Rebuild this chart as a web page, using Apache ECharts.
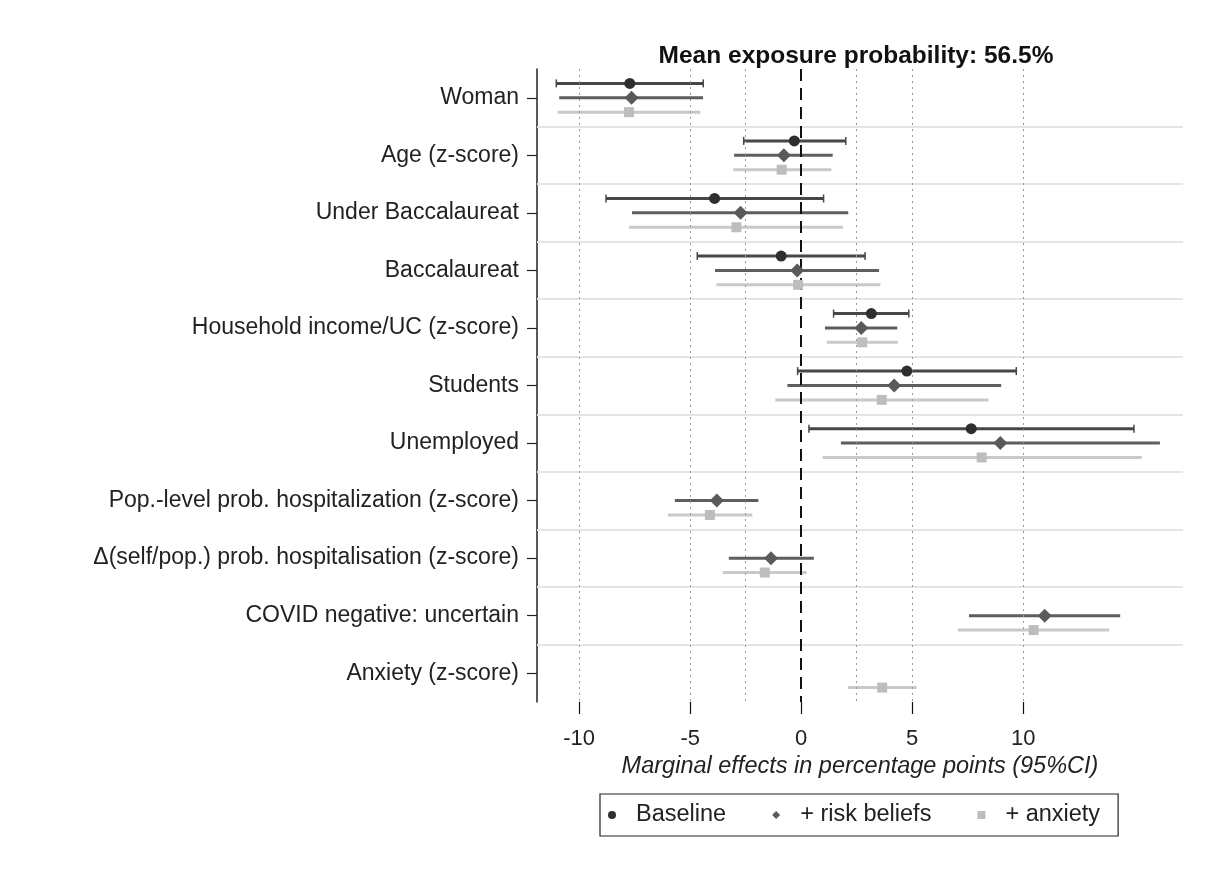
<!DOCTYPE html>
<html>
<head>
<meta charset="utf-8">
<script src="https://cdn.jsdelivr.net/npm/echarts@6/dist/echarts.min.js"></script>
<style>
html,body{margin:0;padding:0;background:#fff;}
#chart{width:1210px;height:882px;}
</style>
</head>
<body>
<div id="chart"></div>
<script>
var categories = [
  'Woman',
  'Age (z-score)',
  'Under Baccalaureat',
  'Baccalaureat',
  'Household income/UC (z-score)',
  'Students',
  'Unemployed',
  'Pop.-level prob. hospitalization (z-score)',
  '\u0394(self/pop.) prob. hospitalisation (z-score)',
  'COVID negative: uncertain',
  'Anxiety (z-score)'
];

var baselinePt = [-7.72, -0.31, -3.90, -0.90, 3.16, 4.76, 7.66, null, null, null, null];
var baselineLo = [-11.03, -2.59, -8.79, -4.68, 1.46, -0.16, 0.35, null, null, null, null];
var baselineHi = [-4.41, 2.01, 1.01, 2.88, 4.85, 9.69, 14.99, null, null, null, null];

var riskPt = [-7.64, -0.78, -2.73, -0.18, 2.71, 4.19, 8.97, -3.80, -1.36, 10.97, null];
var riskLo = [-10.90, -3.02, -7.62, -3.88, 1.07, -0.62, 1.79, -5.69, -3.26, 7.56, null];
var riskHi = [-4.42, 1.42, 2.12, 3.51, 4.33, 9.01, 16.16, -1.93, 0.57, 14.37, null];

var anxPt = [-7.76, -0.88, -2.92, -0.14, 2.75, 3.63, 8.13, -4.11, -1.64, 10.47, 3.65];
var anxLo = [-10.97, -3.06, -7.76, -3.82, 1.15, -1.17, 0.97, -6.00, -3.53, 7.06, 2.11];
var anxHi = [-4.54, 1.36, 1.89, 3.57, 4.35, 8.44, 15.34, -2.20, 0.25, 13.88, 5.20];

var xTicks = [-10, -5, 0, 5, 10];
var xGrid = [-10, -5, -2.5, 2.5, 5, 10];

var titleText = 'Mean exposure probability: 56.5%';
var xName = 'Marginal effects in percentage points (95%CI)';
var seriesNames = ['Baseline', '+ risk beliefs', '+ anxiety'];

var FONT = 'Liberation Sans, Arial, sans-serif';
var colBase = '#2f2f2f', colBaseLine = '#474747';
var colRisk = '#5a5a5a', colRiskLine = '#5e5e5e';
var colAnx = '#bdbdbd', colAnxLine = '#c9c9c9';

function ciData(lo, hi, offset) {
  var out = [];
  for (var i = 0; i < lo.length; i++) {
    if (lo[i] !== null && hi[i] !== null) out.push([lo[i], hi[i], i + offset]);
  }
  return out;
}
function ptData(pt, offset) {
  var out = [];
  for (var i = 0; i < pt.length; i++) {
    if (pt[i] !== null) out.push([pt[i], i + offset]);
  }
  return out;
}
function ciRender(color, cap) {
  return function (params, api) {
    var y = api.value(2);
    var a = api.coord([api.value(0), y]);
    var b = api.coord([api.value(1), y]);
    var ch = [{
      type: 'line',
      shape: {x1: a[0], y1: a[1], x2: b[0], y2: b[1]},
      style: {stroke: color, lineWidth: 3}
    }];
    if (cap) {
      ch.push({type: 'line', shape: {x1: a[0], y1: a[1] - 4, x2: a[0], y2: a[1] + 4}, style: {stroke: color, lineWidth: 1.5}});
      ch.push({type: 'line', shape: {x1: b[0], y1: b[1] - 4, x2: b[0], y2: b[1] + 4}, style: {stroke: color, lineWidth: 1.5}});
    }
    return {type: 'group', children: ch};
  };
}

var gridLines = xGrid.map(function (v) {
  return {xAxis: v, lineStyle: {type: [2, 4], color: '#9a9a9a', width: 1}};
});
var sepLines = [];
for (var k = 0; k < categories.length - 1; k++) {
  sepLines.push({yAxis: k + 0.5, lineStyle: {type: 'solid', color: '#e4e4e4', width: 2}});
}

var chart = echarts.init(document.getElementById('chart'), null, {renderer: 'canvas'});
chart.setOption({
  backgroundColor: '#ffffff',
  animation: false,
  textStyle: {fontFamily: FONT},
  title: {
    text: titleText,
    left: 851, top: 39, textAlign: 'center',
    textStyle: {fontFamily: FONT, fontSize: 24.5, fontWeight: 'bold', color: '#111'}
  },
  legend: {
    left: 600, top: 794,
    orient: 'horizontal',
    padding: [9, 18, 9, 8],
    itemGap: 46,
    itemWidth: 8, itemHeight: 8,
    borderColor: '#222', borderWidth: 1.2,
    backgroundColor: '#fff',
    textStyle: {fontFamily: FONT, fontSize: 23.5, color: '#222', padding: [0, 0, 0, 15]},
    data: [
      {name: seriesNames[0], icon: 'circle'},
      {name: seriesNames[1], icon: 'diamond'},
      {name: seriesNames[2], icon: 'rect'}
    ]
  },
  grid: {left: 537, top: 69, width: 646, height: 633, containLabel: false},
  xAxis: {
    type: 'value', min: -11.9, max: 17.2,
    position: 'bottom',
    axisLine: {show: false, onZero: false},
    splitLine: {show: false},
    axisTick: {show: true, customValues: xTicks, length: 12, lineStyle: {color: '#111', width: 1.2}},
    axisLabel: {customValues: xTicks, fontSize: 22, color: '#222', margin: 26, fontFamily: FONT},
    name: xName, nameLocation: 'middle', nameGap: 48,
    nameTextStyle: {fontFamily: FONT, fontSize: 23.5, fontStyle: 'italic', color: '#222'}
  },
  yAxis: [
    {
      type: 'category', data: categories, inverse: true,
      boundaryGap: true, position: 'left',
      axisLine: {show: true, onZero: false, lineStyle: {color: '#222', width: 1.5}},
      axisTick: {show: true, alignWithLabel: true, length: 10, lineStyle: {color: '#222', width: 1.2}},
      axisLabel: {fontSize: 23, color: '#222', margin: 18, fontFamily: FONT},
      splitLine: {show: false}
    },
    {
      type: 'value', min: -0.5, max: 10.5, inverse: true, show: false,
      axisLine: {onZero: false},
      splitLine: {show: false}
    }
  ],
  series: [
    {
      name: '_grid', type: 'scatter', xAxisIndex: 0, yAxisIndex: 1,
      data: [[0, 0]], symbolSize: 0, silent: true, z: 1,
      markLine: {
        silent: true, symbol: 'none', label: {show: false}, animation: false,
        data: sepLines.concat(gridLines).concat([
          {xAxis: 0, lineStyle: {type: [12, 7], color: '#111', width: 2}}
        ])
      }
    },
    {
      name: '_ciBase', type: 'custom', xAxisIndex: 0, yAxisIndex: 1, z: 3,
      renderItem: ciRender(colBaseLine, true),
      encode: {x: [0, 1], y: 2},
      data: ciData(baselineLo, baselineHi, -0.25)
    },
    {
      name: '_ciRisk', type: 'custom', xAxisIndex: 0, yAxisIndex: 1, z: 3,
      renderItem: ciRender(colRiskLine, false),
      encode: {x: [0, 1], y: 2},
      data: ciData(riskLo, riskHi, 0)
    },
    {
      name: '_ciAnx', type: 'custom', xAxisIndex: 0, yAxisIndex: 1, z: 3,
      renderItem: ciRender(colAnxLine, false),
      encode: {x: [0, 1], y: 2},
      data: ciData(anxLo, anxHi, 0.25)
    },
    {
      name: seriesNames[0], type: 'scatter', xAxisIndex: 0, yAxisIndex: 1, z: 5,
      symbol: 'circle', symbolSize: 11,
      itemStyle: {color: colBase, opacity: 1},
      data: ptData(baselinePt, -0.25)
    },
    {
      name: seriesNames[1], type: 'scatter', xAxisIndex: 0, yAxisIndex: 1, z: 5,
      symbol: 'diamond', symbolSize: 14,
      itemStyle: {color: colRisk, opacity: 1},
      data: ptData(riskPt, 0)
    },
    {
      name: seriesNames[2], type: 'scatter', xAxisIndex: 0, yAxisIndex: 1, z: 5,
      symbol: 'rect', symbolSize: 10,
      itemStyle: {color: colAnx, opacity: 1},
      data: ptData(anxPt, 0.25)
    }
  ]
});
</script>
</body>
</html>
